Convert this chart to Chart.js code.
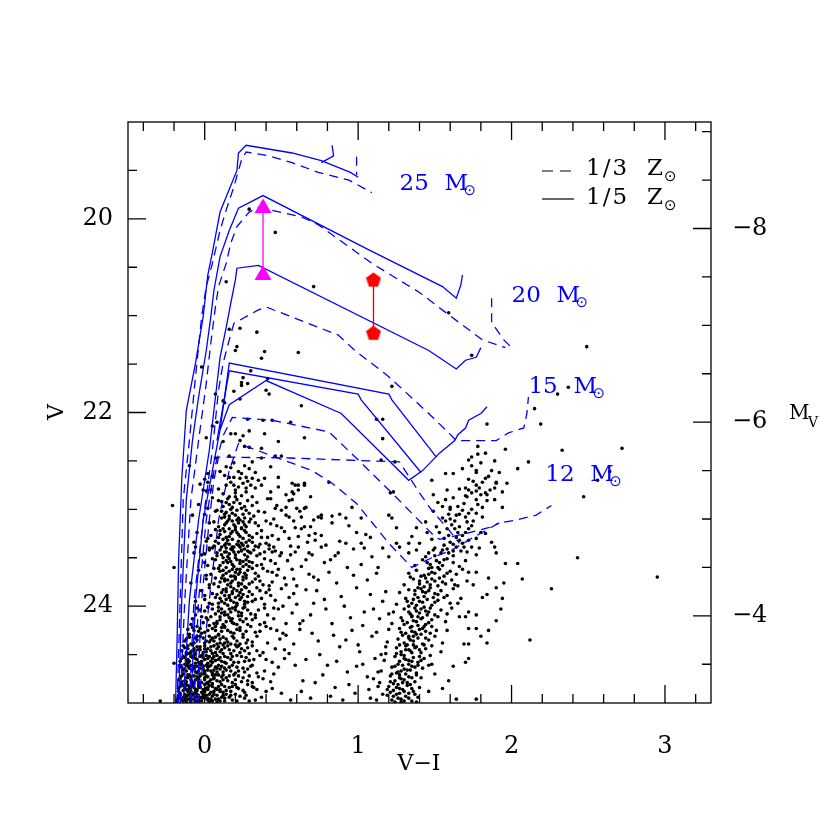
<!DOCTYPE html>
<html>
<head>
<meta charset="utf-8">
<script src="https://cdn.jsdelivr.net/npm/chart.js"></script>
<style>
  html, body { margin: 0; padding: 0; background: #fff; }
  canvas { display: block; }
</style>
</head>
<body>
<canvas id="cmdChart" width="830" height="830"></canvas>
<script>
/* axis labels */
const xTickVals = [0, 1, 2, 3];
const vTickVals = [20, 22, 24];
const mvTickVals = [-8, -6, -4];
const distMod = 28.1;

/* mass labels of the tracks, anchored in V-I / V */
const massNames = ["25", "20", "15", "12"];
const massAnchors = [[1.27, 19.70], [2.00, 20.86], [2.11, 21.80], [2.22, 22.71]];

/* tracks: [V-I, V], null = break */
const track25solid = [[-0.19,25.0],[-0.18,24.35],[-0.17,23.52],[-0.15,22.70],[-0.12,21.98],[-0.06,21.49],[-0.01,21.01],[0.02,20.58],[0.05,20.35],[0.10,19.93],[0.21,19.50],[0.22,19.32],[0.27,19.24],[0.57,19.32],[0.76,19.40],[0.95,19.52],[1.00,19.57],null,[0.76,19.42],[0.84,19.35],[0.83,19.24]];
const track25dash = [[-0.18,25.0],[-0.16,23.94],[-0.14,22.90],[-0.10,22.29],[-0.06,21.63],[-0.04,21.32],[-0.02,21.01],[0.01,20.70],[0.05,20.46],[0.10,20.12],[0.14,19.91],[0.19,19.67],[0.24,19.39],[0.27,19.31],[0.42,19.35],[0.57,19.42],[0.74,19.52],[0.94,19.60],[1.09,19.73],null,[0.99,19.36],[0.99,19.55]];
const track20solid = [[-0.17,25.0],[-0.15,23.94],[-0.12,22.90],[-0.08,22.29],[-0.04,21.84],[0.01,21.36],[0.04,21.01],[0.06,20.74],[0.10,20.39],[0.16,20.12],[0.22,19.89],[0.38,19.76],[1.07,20.32],[1.55,20.70],[1.64,20.82],[1.67,20.68],[1.68,20.58]];
const track20dash = [[-0.16,25.0],[-0.13,23.94],[-0.09,22.90],[-0.04,22.29],[0.01,21.70],[0.04,21.28],[0.07,20.91],[0.09,20.70],[0.14,20.46],[0.17,20.25],[0.21,20.08],[0.29,19.93],[0.35,19.88],[0.63,19.98],[0.74,20.06],[1.09,20.46],[1.40,20.76],[1.59,20.99],[1.81,21.25],[1.96,21.33],null,[1.87,20.82],[1.87,21.07],[1.95,21.25],[2.00,21.33]];
const track15solid = [[-0.14,25.0],[-0.10,23.94],[-0.04,23.11],[0.03,22.39],[0.07,21.84],[0.10,21.43],[0.14,21.12],[0.17,20.87],[0.20,20.63],[0.21,20.51],[0.35,20.48],[1.46,21.36],[1.64,21.55],[1.70,21.46],[1.77,21.43],[1.80,21.33]];
const track15dash = [[-0.10,25.0],[-0.07,23.94],[-0.01,23.11],[0.05,22.39],[0.09,21.77],[0.12,21.49],[0.16,21.25],[0.19,21.08],[0.35,20.94],[0.40,20.91],[0.87,21.20],[0.98,21.36],[1.20,21.63],[1.46,22.01],[1.59,22.21],[1.64,22.29],[1.90,22.29],[1.98,22.21],[2.08,22.16],[2.10,22.01],[2.11,21.84]];
const track12solid = [[-0.09,25.0],[-0.06,23.94],[-0.01,23.11],[0.05,22.60],[0.10,22.18],[0.16,21.92],[0.40,21.67],[0.89,22.01],[1.33,22.70],[1.42,22.60],[1.53,22.42],[1.63,22.29],[1.65,22.23],[1.70,22.16],[1.72,22.08],[1.80,22.01],[1.84,21.94]];
const track12solidA = [[0.10,22.18],[0.16,21.49],[1.20,21.81],[1.22,21.87],[1.51,22.46]];
const track12solidB = [[0.08,22.29],[0.16,21.57],[1.00,21.81],[1.02,21.87],[1.41,22.62]];
const track12dashA = [[-0.07,25.0],[-0.04,23.94],[0.01,23.11],[0.06,22.60],[0.12,22.24],[0.18,22.05],[0.44,22.08],[0.81,22.20],[1.02,22.52],[1.22,22.83],[1.35,23.04],[1.48,23.25],[1.53,23.31],[1.70,23.25],[1.85,23.19],[1.92,23.14]];
const track12dashB = [[-0.05,25.0],[-0.02,23.94],[0.03,23.11],[0.06,22.70],[0.09,22.46],[0.55,22.47],[1.27,22.51],[1.40,22.83],[1.48,23.01],[1.59,23.21],[1.66,23.35]];
const track12dashC = [[-0.04,25.0],[0.03,23.94],[0.09,23.11],[0.16,22.60],[0.22,22.32],[0.46,22.46],[0.70,22.60],[0.83,22.73],[0.99,22.94],[1.20,23.35],[1.35,23.60],[1.48,23.50],[1.61,23.42],[1.75,23.29],[1.92,23.14],[2.03,23.11],[2.16,23.06],[2.26,22.96]];

/* the two measured stars */
const triangleStar = [[0.38,19.89],[0.38,20.58]];
const pentagonStar = [[1.10,20.63],[1.10,21.18]];

/* photometry */
const bluePlume = [
[0.29,19.90],[0.46,20.14],[0.14,20.65],[0.71,20.70],[0.16,21.14],[0.23,21.13],[0.34,21.17],[0.21,21.32],[0.20,21.36],[0.39,21.37],[0.61,21.38],[0.37,21.44],[-0.02,21.53],[0.30,21.57],[0.25,21.64],[0.24,21.69],[0.28,21.70],[0.24,21.72],[0.41,21.65],[0.19,21.78],[0.40,21.77],[0.42,21.81],[0.23,21.86],[0.07,21.81],[0.12,21.88],[0.13,21.90],[0.63,21.93],
[0.08,22.10],[0.05,22.14],[0.28,22.07],[0.38,22.08],[0.44,22.08],[0.56,22.10],[0.17,22.22],[0.20,22.22],[0.25,22.24],[0.23,22.29],[0.29,22.19],[0.39,22.22],[0.01,22.26],[0.12,22.30],[0.26,22.35],[0.29,22.36],[0.37,22.37],[0.48,22.30],[0.65,22.26],[0.07,22.47],[-0.10,22.55],[0.16,22.45],[0.19,22.52],[0.46,22.45],[0.50,22.45],[0.37,22.47],[0.14,22.56],[0.17,22.57],[0.31,22.51],[0.26,22.55],[0.22,22.61],[0.29,22.58],[0.33,22.62],[0.43,22.56],[0.02,22.63],[0.00,22.69],[0.02,22.72],[0.05,22.66],[0.10,22.61],[0.16,22.67],[0.19,22.67],[0.23,22.68],[0.27,22.67],[0.31,22.68],[0.35,22.70],[0.39,22.68],[0.48,22.67],[0.57,22.73],[0.61,22.75],[0.65,22.73],[0.81,22.72],[-0.03,22.74],[-0.01,22.80],[0.01,22.81],[0.04,22.80],[0.09,22.79],[0.14,22.75],[0.19,22.75],[0.20,22.80],[0.25,22.73],[0.27,22.78],[0.30,22.75],[0.33,22.78],[0.37,22.75],[0.43,22.82],[0.48,22.77],[0.53,22.85],[0.58,22.84],[0.69,22.87],[0.16,22.87],[0.20,22.87],[0.31,22.87],
[0.59,22.75],[0.65,22.75],[0.57,22.82],[0.61,22.80],[0.43,22.89],[0.46,22.99],[0.50,23.01],[0.53,22.98],[0.57,22.90],[0.60,22.99],[0.65,22.99],[0.55,23.08],[0.63,23.08],[0.76,23.06],[0.83,23.07],[0.76,23.09],[0.65,23.18],[0.59,23.19],[0.68,23.27],[0.72,23.32],[0.61,23.39],[0.56,23.47],[0.50,23.45],[0.44,23.44],[0.42,23.37],[0.37,23.29],[0.35,23.39],[0.29,23.44],[0.24,23.42],[0.22,23.37],[0.18,23.39],[0.14,23.44],[0.11,23.39],[0.08,23.45],[0.03,23.40],[-0.02,23.47],[-0.06,23.39],[-0.07,23.34],
[0.05,22.88],[0.11,22.92],[0.16,22.95],[0.21,22.90],[0.26,22.97],[0.34,22.93],[0.41,22.89],[0.47,22.96],[0.55,22.91],[0.66,22.98],[-0.04,22.95],[0.02,22.99],
[0.00,23.05],[0.07,23.02],[0.13,23.08],[0.18,23.04],[0.22,23.09],[0.27,23.01],[0.32,23.07],[0.39,23.03],[0.45,23.10],[0.53,23.06],[0.62,23.02],[0.74,23.08],[-0.08,23.06],
[0.03,23.14],[0.09,23.18],[0.15,23.12],[0.19,23.16],[0.24,23.19],[0.29,23.13],[0.35,23.17],[0.43,23.15],[0.50,23.19],[0.58,23.12],[0.69,23.18],[0.83,23.14],[0.21,23.11],
[-0.05,23.24],[0.04,23.27],[0.10,23.22],[0.14,23.29],[0.17,23.25],[0.20,23.21],[0.23,23.28],[0.27,23.24],[0.31,23.29],[0.37,23.22],[0.44,23.27],[0.52,23.23],[0.61,23.28],[0.72,23.25],
[0.01,23.33],[0.06,23.38],[0.12,23.31],[0.16,23.36],[0.19,23.39],[0.22,23.33],[0.25,23.37],[0.29,23.32],[0.33,23.38],[0.40,23.35],[0.48,23.31],[0.56,23.38],[0.67,23.34],[0.09,23.35],
[-0.07,23.45],[0.03,23.42],[0.08,23.48],[0.13,23.44],[0.17,23.41],[0.20,23.47],[0.24,23.43],[0.28,23.49],[0.32,23.42],[0.36,23.46],[0.42,23.41],[0.49,23.48],[0.59,23.44],[0.70,23.47],[0.15,23.49],
[0.00,23.55],[0.05,23.51],[0.10,23.58],[0.14,23.53],[0.18,23.57],[0.21,23.52],[0.25,23.59],[0.29,23.54],[0.34,23.58],[0.39,23.51],[0.46,23.56],[0.54,23.53],[0.63,23.59],[0.78,23.55],
[-0.04,23.63],[0.04,23.67],[0.09,23.61],[0.12,23.68],[0.16,23.64],[0.19,23.69],[0.23,23.62],[0.26,23.66],[0.31,23.61],[0.35,23.69],[0.41,23.64],[0.47,23.68],[0.57,23.62],[0.68,23.67],[0.20,23.65],
[0.01,23.72],[0.06,23.77],[0.11,23.71],[0.15,23.78],[0.18,23.74],[0.22,23.79],[0.25,23.73],[0.29,23.77],[0.33,23.72],[0.38,23.78],[0.44,23.75],[0.52,23.71],[0.60,23.79],[0.74,23.73],[-0.09,23.76],
[-0.02,23.84],[0.03,23.81],[0.08,23.88],[0.12,23.83],[0.16,23.89],[0.19,23.82],[0.23,23.86],[0.27,23.81],[0.31,23.88],[0.36,23.84],[0.43,23.89],[0.50,23.82],[0.58,23.87],[0.66,23.83],[0.14,23.85],
[0.00,23.93],[0.05,23.98],[0.10,23.92],[0.13,23.97],[0.17,23.94],[0.21,23.99],[0.24,23.91],[0.28,23.96],[0.33,23.93],[0.39,23.98],[0.46,23.94],[0.55,23.91],[0.71,23.97],[-0.06,23.95],
[-0.03,24.04],[0.02,24.01],[0.07,24.08],[0.11,24.03],[0.15,24.09],[0.18,24.02],[0.22,24.06],[0.26,24.01],[0.30,24.08],[0.35,24.04],[0.41,24.09],[0.48,24.03],[0.57,24.07],[0.09,24.05],
[-0.08,24.13],[-0.01,24.17],[0.04,24.11],[0.08,24.16],[0.12,24.19],[0.16,24.12],[0.19,24.18],[0.23,24.14],[0.28,24.19],[0.33,24.12],[0.39,24.17],[0.45,24.13],[0.53,24.18],[0.64,24.15],[0.01,24.12],
[-0.11,24.24],[-0.05,24.21],[0.00,24.27],[0.05,24.23],[0.09,24.29],[0.13,24.22],[0.17,24.27],[0.21,24.24],[0.25,24.29],[0.30,24.21],[0.36,24.26],[0.43,24.23],[0.51,24.28],[0.62,24.24],[0.07,24.25],[-0.02,24.28],
[-0.12,24.34],[-0.07,24.38],[-0.03,24.31],[0.01,24.36],[0.05,24.33],[0.08,24.39],[0.12,24.32],[0.15,24.37],[0.19,24.33],[0.23,24.39],[0.28,24.35],[0.34,24.31],[0.41,24.38],[0.49,24.34],[0.58,24.39],[0.03,24.31],
[-0.13,24.43],[-0.09,24.47],[-0.05,24.42],[-0.01,24.48],[0.02,24.44],[0.06,24.41],[0.10,24.47],[0.13,24.43],[0.17,24.49],[0.21,24.42],[0.26,24.46],[0.31,24.41],[0.38,24.48],[0.46,24.44],[0.55,24.49],[0.04,24.46],[-0.03,24.45],
[-0.14,24.52],[-0.10,24.57],[-0.07,24.51],[-0.04,24.58],[-0.01,24.53],[0.02,24.59],[0.05,24.54],[0.08,24.51],[0.11,24.57],[0.15,24.53],[0.19,24.58],[0.24,24.52],[0.29,24.56],[0.36,24.51],[0.44,24.58],[0.52,24.54],[0.00,24.55],[-0.06,24.54],
[-0.15,24.63],[-0.12,24.67],[-0.09,24.61],[-0.06,24.68],[-0.03,24.64],[0.00,24.69],[0.03,24.62],[0.06,24.66],[0.09,24.61],[0.12,24.68],[0.16,24.63],[0.20,24.69],[0.25,24.64],[0.31,24.61],[0.39,24.67],[0.48,24.63],[-0.01,24.65],[0.04,24.67],
[-0.15,24.72],[-0.13,24.77],[-0.10,24.71],[-0.08,24.78],[-0.05,24.73],[-0.02,24.79],[0.01,24.72],[0.04,24.76],[0.07,24.71],[0.10,24.78],[0.14,24.74],[0.18,24.79],[0.22,24.72],[0.28,24.77],[0.35,24.73],[0.43,24.78],[-0.04,24.75],[0.02,24.79],[-0.11,24.74],
[-0.16,24.83],[-0.14,24.87],[-0.12,24.81],[-0.09,24.88],[-0.07,24.84],[-0.04,24.81],[-0.02,24.89],[0.01,24.85],[0.03,24.82],[0.06,24.88],[0.09,24.83],[0.12,24.89],[0.16,24.84],[0.20,24.81],[0.25,24.87],[0.31,24.83],[0.40,24.88],[-0.10,24.85],[-0.05,24.87],[0.00,24.81],
[-0.17,24.93],[-0.15,24.97],[-0.13,24.91],[-0.11,24.96],[-0.08,24.92],[-0.06,24.98],[-0.03,24.94],[-0.01,24.91],[0.02,24.97],[0.05,24.93],[0.08,24.99],[0.11,24.94],[0.14,24.91],[0.18,24.97],[0.23,24.93],[0.29,24.98],[0.37,24.94],[-0.09,24.95],[-0.04,24.97],[0.00,24.95],
[0.14,22.93],[0.18,22.98],[0.23,22.94],[0.13,23.05],[0.17,23.00],[0.25,23.05],[0.16,23.10],[0.22,23.14],[0.26,23.16],[0.12,23.20],[0.18,23.23],[0.24,23.20],[0.15,23.32],[0.21,23.36],[0.27,23.34],[0.14,23.40],[0.19,23.44],[0.26,23.41],[0.12,23.50],[0.17,23.54],[0.23,23.56],[0.27,23.52],[0.14,23.60],[0.21,23.62],[0.25,23.70],[0.13,23.74],[0.20,23.72],[0.17,23.80],[0.24,23.83],[0.11,23.86],[0.20,23.91],[0.15,23.99],[0.26,23.95],[0.13,24.06],[0.20,24.04],[0.24,24.10],[0.10,24.14],[0.17,24.15],
[-0.08,24.22],[-0.04,24.26],[0.03,24.20],[0.11,24.26],[-0.10,24.32],[-0.05,24.35],[0.06,24.36],[0.10,24.34],[-0.11,24.41],[-0.07,24.44],[0.00,24.41],[0.08,24.44],[0.12,24.40],[-0.12,24.50],[-0.08,24.53],[-0.02,24.51],[0.03,24.52],[0.07,24.56],[0.13,24.58],[-0.13,24.60],[-0.10,24.64],[-0.05,24.62],[0.01,24.61],[0.07,24.63],[0.10,24.65],[-0.14,24.70],[-0.12,24.74],[-0.07,24.72],[-0.03,24.70],[0.00,24.76],[0.06,24.74],[0.12,24.71],[-0.15,24.80],[-0.11,24.82],[-0.08,24.80],[-0.03,24.83],[0.02,24.84],[0.05,24.80],[0.10,24.86],[-0.16,24.90],[-0.14,24.94],[-0.12,24.99],[-0.07,24.90],[-0.05,24.93],[-0.02,24.98],[0.03,24.91],[0.07,24.96],[0.13,24.98]
];

const bluePlumeCore = [
[0.09,22.91],[0.15,22.89],[0.19,22.93],[0.28,22.91],[0.31,22.96],[0.24,22.99],[0.12,22.97],[0.08,23.01],[0.14,23.03],[0.20,23.06],[0.29,23.04],[0.35,23.02],[0.11,23.09],[0.18,23.12],[0.23,23.11],[0.30,23.10],[0.06,23.13],[0.13,23.16],[0.27,23.18],[0.33,23.14],[0.40,23.12],[0.47,23.17],
[0.07,23.21],[0.13,23.23],[0.16,23.20],[0.22,23.26],[0.26,23.22],[0.29,23.27],[0.34,23.25],[0.41,23.29],[0.09,23.29],[0.02,23.30],[0.07,23.33],[0.14,23.35],[0.18,23.31],[0.24,23.35],[0.28,23.38],[0.31,23.34],[0.36,23.36],[0.45,23.39],[0.05,23.40],[0.10,23.42],[0.16,23.46],[0.22,23.44],[0.26,23.47],[0.30,23.45],[0.34,23.48],[0.39,23.44],[0.46,23.43],[0.00,23.46],[0.07,23.52],[0.12,23.55],[0.16,23.51],[0.19,23.59],[0.23,23.53],[0.27,23.57],[0.31,23.55],[0.37,23.57],[0.43,23.53],[0.02,23.58],
[0.06,23.61],[0.10,23.64],[0.14,23.66],[0.18,23.62],[0.22,23.67],[0.28,23.63],[0.33,23.66],[0.38,23.61],[0.44,23.65],[0.01,23.68],[0.07,23.71],[0.13,23.72],[0.17,23.76],[0.20,23.70],[0.24,23.77],[0.27,23.71],[0.31,23.75],[0.36,23.74],[0.42,23.79],[0.03,23.78],[0.09,23.80],[0.14,23.82],[0.18,23.87],[0.21,23.84],[0.25,23.88],[0.29,23.85],[0.34,23.81],[0.40,23.86],[0.05,23.87],[0.00,23.89],[0.07,23.91],[0.11,23.95],[0.16,23.91],[0.19,23.96],[0.23,23.93],[0.26,23.98],[0.31,23.95],[0.37,23.92],[0.03,23.97],
[-0.05,24.02],[0.00,24.05],[0.05,24.03],[0.09,24.01],[0.13,24.09],[0.17,24.06],[0.20,24.01],[0.24,24.07],[0.28,24.04],[0.33,24.09],[0.39,24.02],[-0.06,24.09],[-0.02,24.11],[0.02,24.14],[0.06,24.18],[0.10,24.11],[0.14,24.16],[0.18,24.13],[0.21,24.19],[0.25,24.16],[0.31,24.14],[0.36,24.19],[-0.09,24.19],[-0.07,24.25],[-0.03,24.23],[0.02,24.25],[0.07,24.21],[0.11,24.22],[0.15,24.25],[0.19,24.28],[0.23,24.22],[0.27,24.26],[0.33,24.27],[0.40,24.21],[-0.10,24.29],[-0.05,24.31],[-0.01,24.33],[0.03,24.37],[0.07,24.32],[0.10,24.38],[0.14,24.34],[0.17,24.39],[0.21,24.36],[0.25,24.32],[0.31,24.37],
[-0.14,24.41],[-0.11,24.44],[-0.08,24.40],[-0.04,24.45],[0.00,24.44],[0.04,24.42],[0.07,24.48],[0.11,24.45],[0.15,24.41],[0.19,24.46],[0.23,24.48],[0.28,24.43],[0.34,24.46],[-0.12,24.48],[-0.06,24.49],[-0.15,24.54],[-0.12,24.56],[-0.09,24.52],[-0.05,24.55],[-0.02,24.57],[0.01,24.51],[0.04,24.57],[0.06,24.52],[0.09,24.55],[0.13,24.52],[0.17,24.55],[0.21,24.51],[0.26,24.57],[0.32,24.55],[-0.11,24.59],[-0.03,24.60],
[-0.16,24.61],[-0.13,24.65],[-0.11,24.62],[-0.08,24.66],[-0.04,24.67],[-0.01,24.62],[0.02,24.66],[0.05,24.69],[0.08,24.64],[0.11,24.62],[0.14,24.66],[0.18,24.61],[0.22,24.67],[0.28,24.65],[0.34,24.69],[-0.07,24.62],[0.00,24.67],
[-0.16,24.74],[-0.14,24.70],[-0.12,24.78],[-0.09,24.73],[-0.06,24.76],[-0.03,24.72],[0.00,24.74],[0.03,24.78],[0.06,24.75],[0.09,24.71],[0.12,24.76],[0.16,24.72],[0.20,24.76],[0.25,24.74],[0.31,24.79],[-0.07,24.79],
[-0.17,24.85],[-0.15,24.80],[-0.13,24.84],[-0.11,24.88],[-0.08,24.82],[-0.06,24.86],[-0.03,24.84],[0.00,24.88],[0.02,24.86],[0.05,24.83],[0.08,24.86],[0.11,24.81],[0.14,24.87],[0.18,24.83],[0.22,24.85],[0.28,24.81],[0.34,24.86],
[-0.18,24.96],[-0.16,24.92],[-0.14,24.98],[-0.12,24.93],[-0.10,24.91],[-0.07,24.96],[-0.05,24.91],[-0.02,24.95],[0.01,24.92],[0.04,24.96],[0.06,24.91],[0.09,24.96],[0.12,24.92],[0.16,24.94],[0.20,24.91],[0.26,24.95],[0.33,24.97],[-0.09,24.99],[0.03,24.99]
];

const bluePlumeDense = [
[-0.13,24.36],[-0.09,24.39],[-0.06,24.33],[0.00,24.38],[0.04,24.35],[0.09,24.30],[0.13,24.38],[0.18,24.31],[0.22,24.41],[0.27,24.38],
[-0.15,24.46],[-0.10,24.49],[-0.07,24.46],[-0.03,24.42],[0.01,24.47],[0.05,24.49],[0.09,24.42],[0.12,24.49],[0.16,24.45],[0.20,24.40],[0.24,24.44],[0.29,24.49],
[-0.16,24.57],[-0.13,24.53],[-0.11,24.55],[-0.06,24.59],[-0.03,24.52],[0.02,24.54],[0.05,24.58],[0.10,24.53],[0.14,24.59],[0.18,24.52],[0.22,24.58],[0.27,24.53],
[-0.14,24.66],[-0.12,24.61],[-0.07,24.64],[-0.05,24.69],[-0.02,24.60],[0.02,24.63],[0.04,24.61],[0.08,24.68],[0.13,24.64],[0.17,24.67],[0.21,24.63],[0.26,24.68],[0.30,24.62],
[-0.17,24.76],[-0.15,24.78],[-0.11,24.71],[-0.09,24.76],[-0.04,24.78],[-0.01,24.70],[0.02,24.73],[0.05,24.71],[0.08,24.77],[0.11,24.73],[0.15,24.77],[0.19,24.71],[0.24,24.78],[0.29,24.72],
[-0.17,24.88],[-0.14,24.82],[-0.12,24.86],[-0.10,24.83],[-0.06,24.89],[-0.04,24.84],[-0.01,24.86],[0.01,24.80],[0.04,24.89],[0.07,24.85],[0.10,24.88],[0.13,24.83],[0.17,24.88],[0.21,24.84],[0.26,24.89],[0.32,24.84],
[-0.18,24.99],[-0.16,24.95],[-0.13,24.96],[-0.11,24.92],[-0.09,24.97],[-0.06,24.94],[-0.04,24.99],[-0.01,24.93],[0.02,24.95],[0.05,24.98],[0.08,24.92],[0.10,24.98],[0.13,24.95],[0.17,24.92],[0.21,24.98],[0.27,24.92],
[0.11,23.02],[0.16,23.07],[0.21,23.01],[0.26,23.09],[0.14,23.14],[0.20,23.18],[0.25,23.13],[0.10,23.26],[0.16,23.28],[0.21,23.24],[0.25,23.30],[0.13,23.37],[0.18,23.42],[0.23,23.39],[0.28,23.43],[0.11,23.47],[0.15,23.55],[0.20,23.50],[0.25,23.54],[0.29,23.59],[0.12,23.63],[0.17,23.69],[0.23,23.65],[0.27,23.68],[0.10,23.75],[0.15,23.73],[0.22,23.76],[0.26,23.80],[0.13,23.89],[0.18,23.85],[0.22,23.89],[0.28,23.90],[0.09,23.97],[0.14,23.93],[0.21,23.97],[0.25,24.02],[0.11,24.07],[0.16,24.03],[0.22,24.10],[0.27,24.13],[0.08,24.18],[0.13,24.21],[0.18,24.17],[0.23,24.25],
[0.20,22.83],[0.24,22.86],[0.12,22.84],[0.27,22.82],[0.22,22.77],[0.17,22.72],[0.28,22.71],[0.13,22.65],[0.24,22.63]
];

const redPlume = [
[1.48,22.70],[1.57,22.63],[1.62,22.63],[1.68,22.58],[1.74,22.55],[1.78,22.43],[1.83,22.42],[1.89,22.50],[1.80,22.52],[1.72,22.49],[1.77,22.62],[1.85,22.66],[1.81,22.72],[1.77,22.75],[1.72,22.69],[1.70,22.78],[1.74,22.83],[1.90,22.73],[1.97,22.73],[1.89,22.78],[1.84,22.85],[1.89,22.90],[1.94,22.98],[1.81,22.98],[1.77,22.90],[1.71,22.87],[1.69,22.94],[1.62,22.88],[1.57,22.90],[1.55,22.97],[1.60,22.98],[1.65,22.97],[1.68,23.01],[1.72,23.04],[1.77,23.04],[1.81,23.08],[1.64,23.06],[1.60,23.10],[1.55,23.09],[1.61,23.16],[1.66,23.18],[1.71,23.13],[1.74,23.17],[1.80,23.24],[1.83,23.25],[1.87,23.34],[1.89,23.39],[1.90,23.45],[1.77,23.30],[1.72,23.32],[1.68,23.27],[1.64,23.29],[1.60,23.34],[1.64,23.39],[1.69,23.39],[1.74,23.39],[1.79,23.40],[1.71,23.44],[1.77,23.47],[1.59,23.45],[1.55,23.42],[1.49,23.42],[1.46,23.45],[1.38,23.42],[1.33,23.45],[1.27,23.39],[1.20,23.49],[1.09,23.49],[1.08,23.29],[1.02,23.09],[0.94,23.17],[0.92,23.09],[0.92,23.35],[0.79,23.37],[0.76,23.39],[0.85,23.48],[0.99,23.24],[1.20,23.06],[1.22,23.09],[1.25,23.19],[1.38,23.19],[1.44,23.13],[1.51,23.18],[1.25,23.35],[1.33,23.35],[1.40,23.35],
[1.78,22.35],[1.74,22.46],[1.77,22.60],[1.90,22.72],[1.72,22.80],[1.77,22.81],[1.83,22.83],[1.94,22.82],[1.70,22.86],[1.80,22.85],
[1.60,23.00],[1.66,23.05],[1.57,23.12],[1.63,23.20],[1.53,23.24],[1.59,23.27],[1.48,23.31],[1.54,23.45],[1.62,23.48],
[1.96,23.56],[1.95,23.76],[1.90,23.81],[1.94,23.92],[1.93,24.03],[1.90,24.15],[1.85,24.25],[1.84,24.38],[1.80,24.31],[1.77,24.09],[1.72,24.23],[1.72,24.39],[1.69,24.39],[1.72,24.54],[1.70,24.58],[1.62,24.62],[1.59,24.77],[1.55,24.85],[1.77,24.96],[1.64,24.96],[1.75,23.78],[1.84,23.88],[1.81,23.91],[1.85,23.71],[1.71,23.74],[1.72,23.65],[1.77,23.65],[1.72,24.06],[1.70,24.11],[1.66,24.11],[1.77,24.23],[1.67,23.92],[1.65,23.97],
[1.42,23.52],[1.47,23.57],[1.51,23.53],[1.55,23.58],[1.58,23.51],[1.62,23.55],[1.66,23.59],[1.53,23.55],[1.37,23.58],[1.70,23.53],
[1.38,23.63],[1.43,23.68],[1.46,23.61],[1.50,23.66],[1.53,23.62],[1.56,23.69],[1.60,23.64],[1.64,23.67],[1.48,23.65],[1.33,23.66],[1.68,23.62],
[1.36,23.72],[1.40,23.77],[1.44,23.71],[1.47,23.78],[1.50,23.74],[1.53,23.71],[1.57,23.77],[1.61,23.73],[1.45,23.75],[1.30,23.78],[1.65,23.79],
[1.33,23.83],[1.37,23.88],[1.41,23.82],[1.44,23.86],[1.47,23.81],[1.50,23.87],[1.54,23.84],[1.58,23.89],[1.42,23.85],[1.27,23.86],[1.62,23.82],
[1.31,23.92],[1.35,23.97],[1.39,23.91],[1.42,23.96],[1.45,23.93],[1.48,23.99],[1.52,23.94],[1.56,23.91],[1.40,23.95],[1.25,23.98],[1.60,23.97],
[1.30,24.03],[1.34,24.08],[1.37,24.02],[1.40,24.07],[1.43,24.01],[1.46,24.06],[1.50,24.09],[1.54,24.04],[1.38,24.05],[1.23,24.06],[1.58,24.08],
[1.28,24.12],[1.32,24.17],[1.35,24.11],[1.38,24.16],[1.41,24.13],[1.44,24.19],[1.48,24.14],[1.52,24.11],[1.36,24.15],[1.22,24.18],[1.57,24.16],
[1.27,24.23],[1.31,24.28],[1.34,24.22],[1.37,24.27],[1.40,24.24],[1.43,24.21],[1.47,24.28],[1.51,24.25],[1.35,24.26],[1.20,24.24],
[1.26,24.34],[1.30,24.38],[1.33,24.31],[1.36,24.36],[1.39,24.33],[1.42,24.39],[1.46,24.35],[1.50,24.31],[1.34,24.35],[1.19,24.37],[1.55,24.38],
[1.25,24.43],[1.28,24.47],[1.31,24.41],[1.34,24.46],[1.37,24.43],[1.41,24.48],[1.44,24.44],[1.48,24.41],[1.33,24.45],[1.18,24.49],
[1.24,24.52],[1.27,24.57],[1.30,24.51],[1.33,24.56],[1.36,24.53],[1.39,24.58],[1.43,24.54],[1.47,24.51],[1.31,24.55],[1.17,24.56],
[1.22,24.63],[1.26,24.68],[1.29,24.61],[1.32,24.66],[1.35,24.62],[1.38,24.69],[1.42,24.64],[1.30,24.65],[1.15,24.67],[1.46,24.61],
[1.21,24.72],[1.24,24.77],[1.27,24.71],[1.30,24.76],[1.33,24.73],[1.37,24.78],[1.41,24.74],[1.28,24.75],[1.14,24.79],
[1.20,24.83],[1.23,24.87],[1.26,24.81],[1.29,24.86],[1.32,24.82],[1.36,24.88],[1.40,24.84],[1.27,24.85],[1.13,24.83],
[1.19,24.92],[1.22,24.97],[1.25,24.91],[1.28,24.96],[1.31,24.93],[1.35,24.98],[1.39,24.94],[1.26,24.95],[1.12,24.97],
[1.50,23.40],[1.56,23.37],[1.44,23.49],[1.52,23.60],[1.58,23.66],[1.41,23.69],[1.48,23.72],[1.55,23.75],[1.39,23.81],[1.46,23.84],[1.52,23.88],[1.36,23.93],[1.43,23.90],[1.50,23.96],[1.33,24.00],[1.41,24.03],[1.47,24.02],[1.35,24.10],[1.42,24.12],[1.46,24.17],[1.30,24.19],[1.39,24.20],[1.44,24.26],[1.29,24.30],[1.36,24.31],[1.41,24.29],[1.32,24.40],[1.38,24.42],[1.43,24.40],[1.28,24.50],[1.35,24.48],[1.40,24.52],[1.26,24.60],[1.33,24.60],[1.37,24.63],[1.25,24.69],[1.31,24.70],[1.35,24.74],[1.23,24.80],[1.29,24.79],[1.34,24.81],[1.21,24.89],[1.27,24.90],[1.33,24.90],[1.24,24.99],[1.30,24.98],[1.37,24.91],
[1.62,23.36],[1.67,23.43],[1.58,23.41],[1.66,23.32],[1.70,23.24],[1.75,23.12],[1.70,23.08],[1.63,23.12],[1.74,23.00],[1.78,22.95],[1.84,22.91],[1.86,22.80],[1.79,22.78],[1.83,22.68],[1.87,22.60],[1.92,22.62],[1.75,22.71],[1.66,22.79],[1.58,22.80],[1.49,22.85],[1.52,22.93],[1.59,23.05],[1.49,23.02],[1.45,23.24],[1.35,23.28],[1.16,23.40],[1.13,23.60],[1.18,23.85],[1.20,24.08],[1.12,24.27],[1.15,24.50],[1.10,24.75],[1.16,24.91],[1.48,24.60],[1.50,24.70],[1.46,24.88],[1.54,24.47],[1.58,24.25],[1.61,24.02],[1.63,23.78]
];

const redPlumeCore = [
[1.34,23.70],[1.40,23.74],[1.46,23.67],[1.52,23.79],[1.37,23.84],[1.43,23.80],[1.49,23.91],[1.32,23.95],[1.38,23.99],[1.44,24.05],[1.33,24.06],[1.39,24.11],[1.45,24.09],[1.29,24.15],[1.35,24.21],[1.42,24.23],[1.48,24.21],[1.28,24.27],[1.33,24.33],[1.38,24.29],[1.44,24.33],[1.27,24.40],[1.31,24.45],[1.36,24.40],[1.40,24.45],[1.25,24.49],[1.30,24.54],[1.35,24.57],[1.41,24.56],[1.24,24.62],[1.28,24.67],[1.34,24.66],[1.39,24.61],[1.22,24.70],[1.27,24.74],[1.32,24.79],[1.38,24.71],[1.21,24.78],[1.25,24.84],[1.30,24.88],[1.35,24.85],[1.19,24.86],[1.23,24.93],[1.28,24.99],[1.33,24.95],[1.38,24.99],[1.45,23.55],[1.50,23.48],[1.56,23.52],[1.48,23.60],[1.62,23.43],[1.68,23.35],[1.56,23.30],[1.65,23.24],[1.72,23.20],[1.58,23.20]
];

const fieldStars = [
[2.49,21.32],[2.37,21.74],[2.30,21.81],[2.72,22.37],[2.64,22.61],[2.56,22.70],[2.47,22.87],[2.43,23.50],[2.95,23.70],[2.26,23.82],[2.12,24.35],[2.15,21.96],[2.19,22.12],[2.33,22.39],[2.11,22.51],[2.04,22.58],[1.84,22.12],[1.96,22.38],[1.59,20.97],[1.74,21.41],[1.22,21.73],[1.12,22.07],[1.16,22.07],[1.16,22.27],[1.24,22.51],[1.15,22.49],[1.23,22.82],[1.21,22.83],[2.04,23.56],[2.07,23.72],[-0.29,24.98],[-0.21,22.96],[-0.20,23.60],[-0.20,24.59],
[0.76,23.27],[0.88,23.33],[0.97,23.41],[1.05,23.26],[0.82,23.52],[0.93,23.60],[1.02,23.57],[1.12,23.66],[0.71,23.70],[0.86,23.76],[0.99,23.81],[1.08,23.88],[0.78,23.93],[0.91,24.00],[1.04,24.06],[1.14,24.13],[0.69,24.09],[0.83,24.18],[0.96,24.25],[1.09,24.31],[0.74,24.36],[0.88,24.42],[1.01,24.47],[1.11,24.54],[0.66,24.55],[0.80,24.61],[0.93,24.68],[1.06,24.73],[0.72,24.79],[0.85,24.84],[0.98,24.90],[1.08,24.95],[0.63,24.88],[0.90,24.97],[0.77,24.71],[1.03,24.60],[0.60,23.98],[0.68,23.45],[1.16,23.95],[1.18,24.42],
[0.48,23.62],[0.53,23.78],[0.51,24.00],[0.47,24.25],[0.52,24.45],[0.45,24.70],[0.50,24.90],[0.58,23.72],[0.62,24.18],[0.59,24.61],[0.64,24.77],[0.56,24.97],[0.66,23.52],[0.73,23.84],[0.70,24.28],[0.75,24.50],[0.69,24.95],[0.81,23.65],[0.79,24.03],[0.84,24.30],[0.82,24.93],[0.87,23.45],[0.89,23.90],[0.92,24.35],[0.86,24.57],[0.94,24.81],[0.97,23.68],[0.95,24.12],[1.00,24.40],[0.99,24.62],[1.04,23.40],[1.06,23.73],[1.03,24.20],[1.07,24.86],[1.10,24.03],[1.13,24.68],[0.55,23.30],[0.63,23.20],[0.71,23.11],[0.88,23.05],[0.96,22.98],[1.02,23.35],[0.42,23.83],[0.45,24.02],[0.40,24.55],[0.44,24.85],[0.38,24.75],[0.53,24.30]
];

const pts = arr => arr.map(p => p ? { x: p[0], y: p[1] } : { x: null, y: null });

function pentagonImage(size, color) {
  const c = document.createElement("canvas");
  c.width = size; c.height = size;
  const g = c.getContext("2d");
  const r = size * 0.49;
  g.fillStyle = color;
  g.beginPath();
  for (let i = 0; i < 5; i++) {
    const a = -Math.PI / 2 + i * 2 * Math.PI / 5;
    g.lineTo(size / 2 + Math.cos(a) * r, size * 0.52 + Math.sin(a) * r);
  }
  g.closePath();
  g.fill();
  return c;
}

const BLUE = "#0000ff";
const trackSet = (arr, dashed) => ({
  data: pts(arr),
  showLine: true,
  spanGaps: false,
  borderColor: BLUE,
  borderWidth: 1.3,
  borderDash: dashed ? [9, 6] : [],
  pointRadius: 0,
  fill: false,
  order: 5
});
const starSet = arr => ({
  data: pts(arr),
  pointRadius: 1.8,
  pointBackgroundColor: "#000",
  pointBorderWidth: 0,
  order: 10
});

const SERIF = "'DejaVu Serif', 'Liberation Serif', serif";

const frameAndText = {
  id: "frameAndText",
  afterDatasetsDraw(chart) {
    const { ctx, chartArea: a, scales } = chart;
    const x = scales.x, y = scales.y, y2 = scales.y2;
    ctx.save();
    ctx.strokeStyle = "#000";
    ctx.lineWidth = 1.3;
    ctx.strokeRect(a.left, a.top, a.right - a.left, a.bottom - a.top);
    ctx.beginPath();
    for (let i = -2; i <= 16; i++) {
      const px = x.getPixelForValue(i / 5);
      const len = i % 5 === 0 ? 18 : 9;
      ctx.moveTo(px, a.bottom); ctx.lineTo(px, a.bottom - len);
      ctx.moveTo(px, a.top); ctx.lineTo(px, a.top + len);
    }
    for (let i = 39; i <= 49; i++) {
      const py = y.getPixelForValue(i / 2);
      const len = i % 4 === 0 ? 18 : 9;
      ctx.moveTo(a.left, py); ctx.lineTo(a.left + len, py);
    }
    for (let i = -18; i <= -7; i++) {
      const py = y2.getPixelForValue(i / 2);
      const len = i % 4 === 0 ? 18 : 9;
      ctx.moveTo(a.right, py); ctx.lineTo(a.right - len, py);
    }
    ctx.stroke();

    // axis titles
    ctx.fillStyle = "#000";
    ctx.font = "22px " + SERIF;
    ctx.textAlign = "center";
    ctx.textBaseline = "middle";
    ctx.fillText("V\u2212I", 419, 764);
    ctx.save();
    ctx.translate(57, 412);
    ctx.rotate(-Math.PI / 2);
    ctx.fillText("V", 0, 0);
    ctx.restore();
    ctx.textAlign = "left";
    ctx.textBaseline = "alphabetic";
    ctx.font = "20px " + SERIF;
    ctx.fillText("M", 789, 419);
    ctx.font = "14px " + SERIF;
    ctx.fillText("V", 808, 427);

    // legend
    ctx.lineWidth = 1.2;
    ctx.beginPath();
    ctx.setLineDash([11, 7]);
    ctx.moveTo(542, 171); ctx.lineTo(574, 171);
    ctx.stroke();
    ctx.setLineDash([]);
    ctx.beginPath();
    ctx.moveTo(542, 199); ctx.lineTo(574, 199);
    ctx.stroke();
    const legendRows = [["1/3", 175], ["1/5", 204]];
    legendRows.forEach(([t, by]) => {
      ctx.font = "23px " + SERIF;
      ctx.letterSpacing = "2px";
      ctx.fillText(t, 586, by);
      ctx.letterSpacing = "0px";
      ctx.fillText("Z", 647, by);
      ctx.font = "15px 'DejaVu Sans', sans-serif";
      ctx.textBaseline = "middle";
      ctx.fillText("\u2299", 664, by + 2);
      ctx.textBaseline = "alphabetic";
    });

    // track labels
    ctx.fillStyle = BLUE;
    massNames.forEach((m, i) => {
      const px = x.getPixelForValue(massAnchors[i][0]);
      const py = y.getPixelForValue(massAnchors[i][1]);
      ctx.font = "23px " + SERIF;
      ctx.fillText(m, px, py);
      ctx.fillText("M", px + 45, py);
      ctx.font = "15px 'DejaVu Sans', sans-serif";
      ctx.textBaseline = "middle";
      ctx.fillText("\u2299", px + 64, py + 1);
      ctx.textBaseline = "alphabetic";
    });
    ctx.restore();
  }
};

const tickFont = { family: SERIF, size: 24 };
const fixedTicks = vals => scale => { scale.ticks = vals.map(v => ({ value: v })); };
const noGrid = { display: false, drawTicks: false };

new Chart(document.getElementById("cmdChart"), {
  type: "scatter",
  data: {
    datasets: [
      starSet(bluePlume),
      starSet(bluePlumeCore),
      starSet(bluePlumeDense),
      starSet(redPlume),
      starSet(redPlumeCore),
      starSet(fieldStars),
      trackSet(track25solid, false),
      trackSet(track25dash, true),
      trackSet(track20solid, false),
      trackSet(track20dash, true),
      trackSet(track15solid, false),
      trackSet(track15dash, true),
      trackSet(track12solid, false),
      trackSet(track12solidA, false),
      trackSet(track12solidB, false),
      trackSet(track12dashA, true),
      trackSet(track12dashB, true),
      trackSet(track12dashC, true),
      {
        data: pts(triangleStar),
        showLine: true,
        borderColor: "#ff00ff",
        borderWidth: 1.3,
        pointStyle: "triangle",
        pointRadius: 8.5,
        pointBackgroundColor: "#ff00ff",
        pointBorderColor: "#ff00ff",
        order: 1
      },
      {
        data: pts(pentagonStar),
        showLine: true,
        borderColor: "#e00000",
        borderWidth: 1.3,
        pointStyle: pentagonImage(16, "#ff0000"),
        pointRadius: 8,
        order: 1
      }
    ]
  },
  options: {
    responsive: false,
    animation: false,
    devicePixelRatio: 1,
    layout: { padding: { top: 122, left: 0, right: 0, bottom: 0 } },
    plugins: { legend: { display: false }, tooltip: { enabled: false } },
    scales: {
      x: {
        type: "linear", position: "bottom", min: -0.5, max: 3.3,
        grid: noGrid, border: { display: false },
        afterBuildTicks: fixedTicks(xTickVals),
        ticks: {
          autoSkip: false, maxRotation: 0, padding: 29,
          color: "#000", font: tickFont,
          callback: v => String(v)
        },
        afterFit: s => { s.height = 127; }
      },
      y: {
        type: "linear", position: "left", min: 19, max: 25, reverse: true,
        grid: noGrid, border: { display: false },
        afterBuildTicks: fixedTicks(vTickVals),
        ticks: {
          autoSkip: false, padding: 15,
          color: "#000", font: tickFont,
          callback: v => String(v)
        },
        afterFit: s => { s.width = 128; }
      },
      y2: {
        type: "linear", position: "right", min: 19 - distMod, max: 25 - distMod, reverse: true,
        grid: noGrid, border: { display: false },
        afterBuildTicks: fixedTicks(mvTickVals),
        ticks: {
          autoSkip: false, padding: 21,
          color: "#000", font: tickFont,
          callback: v => "\u2212" + Math.abs(v)
        },
        afterFit: s => { s.width = 119; }
      }
    }
  },
  plugins: [frameAndText]
});
</script>
</body>
</html>
